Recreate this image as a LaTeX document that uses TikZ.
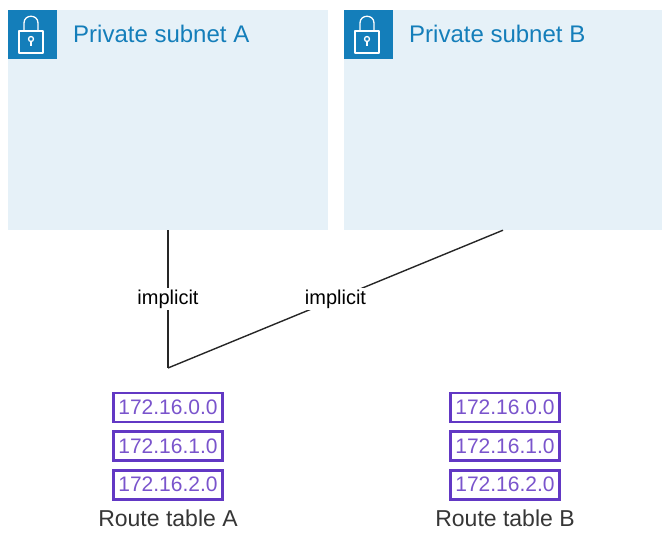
\documentclass[tikz,border=0pt]{standalone}
\usepackage{fontspec}
\setmainfont{Liberation Sans}
\usetikzlibrary{positioning}

\definecolor{subnetfill}{RGB}{230,241,248}
\definecolor{subnetblue}{RGB}{20,126,186}
\definecolor{rtborder}{RGB}{98,56,196}
\definecolor{rttext}{RGB}{122,84,204}
\definecolor{labelgray}{RGB}{54,54,54}

\tikzset{
	subnet/.style={fill=subnetfill, minimum height=220pt, inner sep=0pt},
	title/.style={anchor=west, text=subnetblue, inner sep=0pt, font=\fontsize{24}{24}\selectfont},
	route/.style={draw=rtborder, line width=2.6pt, text=rttext, minimum width=109.4pt, minimum height=29pt, inner sep=0pt, font=\fontsize{21}{21}\selectfont},
	rtlabel/.style={text=labelgray, inner sep=0pt, font=\fontsize{23}{23}\selectfont},
	link/.style={line width=1.4pt, draw=black!85},
	implicit/.style={fill=white, inner sep=1.5pt, font=\fontsize{20}{20}\selectfont},
	lock/.style={draw=white, line width=1.3pt, line join=round}
}

\begin{document}
\begin{tikzpicture}[x=1pt, y=-1pt]
		\useasboundingbox (0,0) rectangle (662,538);
		
		%subnets
		\node[subnet, minimum width=320pt] (subA) at (168,120) {};
		\node[subnet, minimum width=318pt] (subB) at (503,120) {};
		\node[title] (titleA) at (73,34) {Private subnet A};
		\node[title] (titleB) at (409,34) {Private subnet B};
		
		%lock icons
		\foreach \x in {8, 344}{
			\fill[subnetblue] (\x,10) rectangle (\x+49,59);
			\draw[lock] (\x+16,31) -- (\x+16,23) .. controls (\x+16,14) and (\x+30,14) .. (\x+30,23) -- (\x+30,31);
			\draw[lock] (\x+11,31) rectangle (\x+35,53);
			\draw[lock] (\x+23,39) circle (2.5);
			\draw[lock] (\x+23,41.5) -- (\x+23,46);
		}
		
		%route table A
		\node[route] (ra1) at (168,407.5) {172.16.0.0};
		\node[route, below=7pt of ra1] (ra2) {172.16.1.0};
		\node[route, below=7pt of ra2] (ra3) {172.16.2.0};
		\node[rtlabel] (labelA) at (168,518) {Route table A};
		
		%route table B
		\node[route] (rb1) at (505,407.5) {172.16.0.0};
		\node[route, below=7pt of rb1] (rb2) {172.16.1.0};
		\node[route, below=7pt of rb2] (rb3) {172.16.2.0};
		\node[rtlabel] (labelB) at (505,518) {Route table B};
		
		%associations
		\coordinate (corner) at (168,368);
		\draw[link] (subA.south) -- node[implicit] (implA) {implicit} (corner);
		\draw[link] (subB.south) -- node[implicit] (implB) {implicit} (corner);
\end{tikzpicture}
\end{document}
